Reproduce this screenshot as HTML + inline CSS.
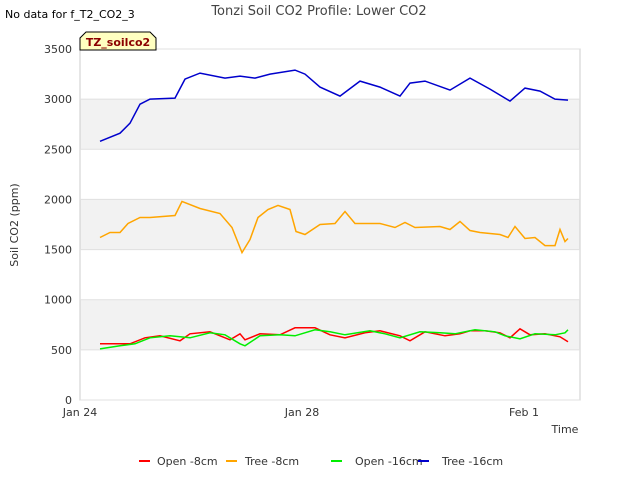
<!DOCTYPE html>
<html><head><meta charset="utf-8"><style>
body{margin:0;background:#fff;font-family:"DejaVu Sans","Liberation Sans",sans-serif;}
svg text{font-family:"DejaVu Sans","Liberation Sans",sans-serif;}
</style></head><body>
<svg id="chart" width="640" height="480">
<text x="5" y="18" font-size="11" fill="#000">No data for f_T2_CO2_3</text>
<text x="319" y="15" font-size="13" fill="#444" text-anchor="middle">Tonzi Soil CO2 Profile: Lower CO2</text>
<g id="bands"></g>
<rect x="80" y="49" width="500" height="351" fill="none" stroke="#ccc"/>
<g id="axes"></g>
<g id="series"></g>
<path d="M80,50 L80,38 L86,32 L150,32 L156,38 L156,50 Z" fill="#ffffc0" stroke="#000"/>
<text x="118" y="46" font-size="11" font-weight="bold" fill="#8b0000" text-anchor="middle">TZ_soilco2</text>
<text x="565" y="433" font-size="11" fill="#333" text-anchor="middle">Time</text>
<text x="18" y="225" font-size="11" fill="#333" text-anchor="middle" transform="rotate(-90 18 225)">Soil CO2 (ppm)</text>
<g id="legend"></g>
</svg>
<script>
const NS="http://www.w3.org/2000/svg";
const yTicks=[0,500,1000,1500,2000,2500,3000,3500];
const xTickDays=[0,4,8];
const xTickLabels=["Jan 24","Jan 28","Feb 1"];
const seriesNames=["Open -8cm","Tree -8cm","Open -16cm","Tree -16cm"];
const seriesColors=["#ff0000","#ffa500","#00ee00","#0000cc"];
const xOpen8=[100,120,130,145,160,180,190,210,230,240,245,260,280,295,315,330,345,365,380,400,410,425,445,460,470,485,500,510,520,530,545,560,568];
const vOpen8=[560,560,560,620,640,590,660,680,600,660,600,660,650,720,720,650,620,670,690,640,590,680,640,660,690,690,670,620,710,650,660,630,580];
const xTree8=[100,110,120,128,140,150,175,182,200,220,232,242,250,258,268,278,290,296,305,320,335,345,355,380,395,405,415,440,450,460,470,480,500,508,515,525,535,545,555,560,565,568];
const vTree8=[1620,1670,1670,1760,1820,1820,1840,1980,1910,1860,1720,1470,1600,1820,1900,1940,1900,1680,1650,1750,1760,1880,1760,1760,1720,1770,1720,1730,1700,1780,1690,1670,1650,1620,1730,1610,1620,1540,1540,1700,1580,1610];
const xOpen16=[100,120,135,150,170,190,210,225,240,245,260,280,295,315,330,345,370,385,400,420,440,455,475,495,505,520,535,555,565,568];
const vOpen16=[510,540,560,620,640,620,670,650,560,540,640,650,640,700,680,650,690,660,620,680,670,660,700,680,640,610,660,650,670,700];
const xTree16=[100,120,130,140,150,175,185,200,225,240,255,270,295,305,320,340,360,380,400,410,425,450,470,490,510,525,540,555,568];
const vTree16=[2580,2660,2760,2950,3000,3010,3200,3260,3210,3230,3210,3250,3290,3250,3120,3030,3180,3120,3030,3160,3180,3090,3210,3100,2980,3110,3080,3000,2990];
const pxToDay=p=>(p-80)/55.5;
const xs=d=>80+d*55.5, ys=v=>400-v*351/3500;
function el(t,a,p){const e=document.createElementNS(NS,t);for(const k in a)e.setAttribute(k,a[k]);p.appendChild(e);return e;}
const bands=document.getElementById('bands');
[500,1500,2500].forEach(v=>{const r=el('rect',{x:80,y:ys(v+500),width:500,height:ys(v)-ys(v+500),fill:'#f2f2f2'},bands);

});
const axes=document.getElementById('axes');
yTicks.forEach(v=>{const t=el('text',{x:72,y:ys(v)+4,'font-size':11,fill:'#333','text-anchor':'end'},axes);t.textContent=v;


const g=el('line',{x1:80,x2:580,y1:ys(v),y2:ys(v),stroke:'#e0e0e0'},axes);

});
xTickDays.forEach((d,i)=>{const t=el('text',{x:xs(d),y:416,'font-size':11,fill:'#333','text-anchor':'middle'},axes);t.textContent=xTickLabels[i];

});
const sg=document.getElementById('series');
const allX=[xOpen8,xTree8,xOpen16,xTree16], allV=[vOpen8,vTree8,vOpen16,vTree16];
[3,1,0,2].forEach(i=>{const pts=allX[i].map((p,j)=>xs(pxToDay(p)).toFixed(1)+','+ys(allV[i][j]).toFixed(1)).join(' ');
const l=el('polyline',{points:pts,fill:'none',stroke:seriesColors[i],'stroke-width':1.5},sg);

});
const lg=document.getElementById('legend');
const lx=[139,226,331,418];
const tx=[157,245,355,442];
seriesNames.forEach((n,i)=>{const l=el('line',{x1:lx[i],x2:lx[i]+11,y1:461,y2:461,stroke:seriesColors[i],'stroke-width':2},lg);


const t=el('text',{x:tx[i],y:465,'font-size':11,fill:'#333'},lg);t.textContent=n;

});
</script>
</body></html>
